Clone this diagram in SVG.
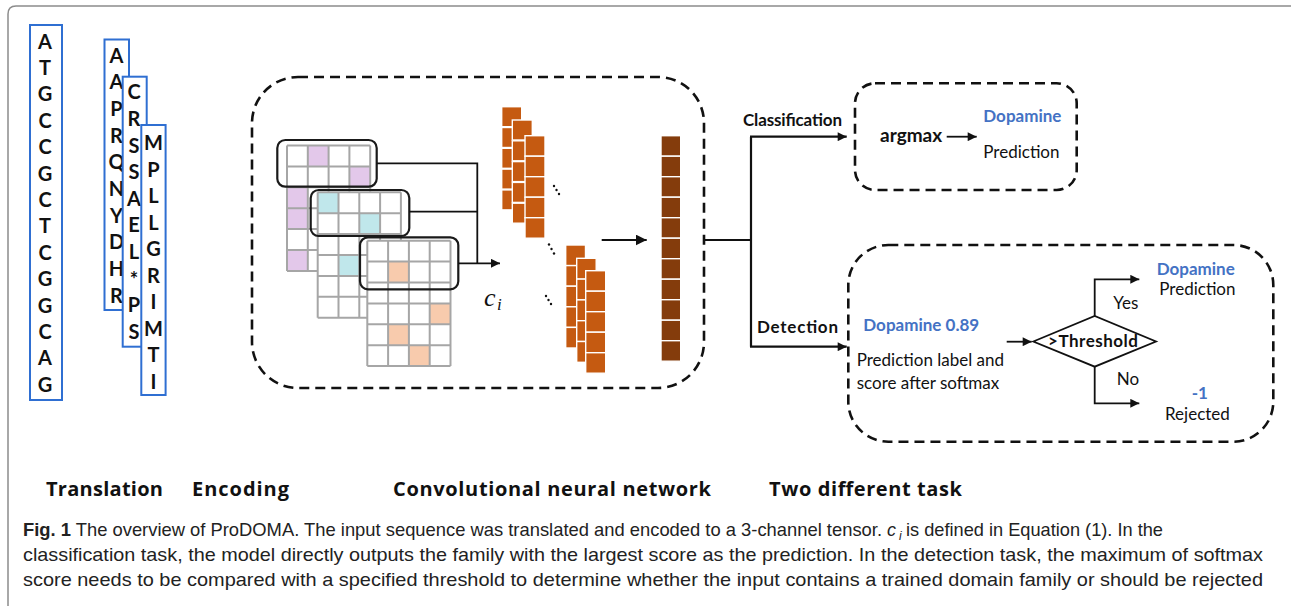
<svg xmlns="http://www.w3.org/2000/svg" xmlns:xlink="http://www.w3.org/1999/xlink" width="1291" height="606" viewBox="0 0 1291 606">
<style>
.seqbox{fill:#fff;stroke:#2F6FD2;stroke-width:2}
.seq{font-family:Lato,"Liberation Sans",sans-serif;font-weight:bold;font-size:20px;fill:#111;text-anchor:middle}
.gl{fill:none;stroke:#A6A6A6;stroke-width:2}
.pk{fill:#E3C8EA}
.cy{fill:#C0E7EB}
.og{fill:#F8CBAD}
.kern{fill:none;stroke:#1a1a1a;stroke-width:2.2}
.fm{fill:#C55A11;stroke:#fff;stroke-width:1.4}
.dk{fill:#843C0C;stroke:#fff;stroke-width:1.4}
.dash{fill:none;stroke:#111;stroke-width:2.6;stroke-dasharray:10 6}
.ln{fill:none;stroke:#111;stroke-width:1.8}
.lnk{fill:none;stroke:#111;stroke-width:2.2}
.t{font-family:Lato,"Liberation Sans",sans-serif;font-size:17px;fill:#111}
.big{font-size:19px}
.b{font-weight:bold}
.blue{fill:#4472C4;font-weight:bold}
.lab{font-family:"Open Sans","Liberation Sans",sans-serif;font-weight:bold;font-size:20px;fill:#111}
.cap{font-family:"Liberation Sans",sans-serif;font-size:19px;fill:#222}
.capi{font-family:"Liberation Sans",sans-serif;font-style:italic;fill:#222}
.dot{fill:#111}
</style>
<defs>
<marker id="ah" viewBox="0 0 10 10" refX="10" refY="5" markerWidth="10" markerHeight="9" markerUnits="userSpaceOnUse" orient="auto"><path d="M0,0 L10,5 L0,10 z" fill="#111"/></marker>
<marker id="ahb" viewBox="0 0 10 10" refX="10" refY="5" markerWidth="11" markerHeight="11" markerUnits="userSpaceOnUse" orient="auto"><path d="M0,0 L10,5 L0,10 z" fill="#111"/></marker>
<path id="gridlines" class="gl" d="M0,0V125.4M20.8,0V125.4M41.6,0V125.4M62.4,0V125.4M83.2,0V125.4M0,0H83.2M0,20.9H83.2M0,41.8H83.2M0,62.7H83.2M0,83.6H83.2M0,104.5H83.2M0,125.4H83.2"/>
</defs>
<rect width="1291" height="606" fill="#fff"/>
<path d="M8,606 V14 Q8,6 16,6 H1291" fill="none" stroke="#8c8c8c" stroke-width="1.5"/>

<g id="seq-dna">
<rect class="seqbox" x="30" y="25" width="32" height="375"/>
<text class="seq" x="45"><tspan x="45" y="48.5">A</tspan><tspan x="45" y="74.9">T</tspan><tspan x="45" y="101.3">G</tspan><tspan x="45" y="127.7">C</tspan><tspan x="45" y="154.1">C</tspan><tspan x="45" y="180.5">G</tspan><tspan x="45" y="206.9">C</tspan><tspan x="45" y="233.3">T</tspan><tspan x="45" y="259.7">C</tspan><tspan x="45" y="286.1">G</tspan><tspan x="45" y="312.5">G</tspan><tspan x="45" y="338.9">C</tspan><tspan x="45" y="365.3">A</tspan><tspan x="45" y="391.7">G</tspan></text>
</g>
<g id="seq-frame1">
<rect class="seqbox" x="104.5" y="39.5" width="24.5" height="270.5"/>
<text class="seq"><tspan x="116.5" y="62.7">A</tspan><tspan x="116.5" y="89.3">A</tspan><tspan x="116.5" y="116">P</tspan><tspan x="116.5" y="142.7">R</tspan><tspan x="116.5" y="169.3">Q</tspan><tspan x="116.5" y="196">N</tspan><tspan x="116.5" y="222.7">Y</tspan><tspan x="116.5" y="249.3">D</tspan><tspan x="116.5" y="276">H</tspan><tspan x="116.5" y="302.7">R</tspan></text>
</g>
<g id="seq-frame2">
<rect class="seqbox" x="122.7" y="76.7" width="24" height="270"/>
<text class="seq"><tspan x="134" y="99.3">C</tspan><tspan x="134" y="125.9">R</tspan><tspan x="134" y="152.5">S</tspan><tspan x="134" y="179.1">S</tspan><tspan x="134" y="205.7">A</tspan><tspan x="134" y="232.3">E</tspan><tspan x="134" y="258.9">L</tspan><tspan x="134" y="287">*</tspan><tspan x="134" y="312.1">P</tspan><tspan x="134" y="338.7">S</tspan></text>
</g>
<g id="seq-frame3">
<rect class="seqbox" x="141.3" y="125" width="24.3" height="270"/>
<text class="seq"><tspan x="153.5" y="150">M</tspan><tspan x="153.5" y="176.5">P</tspan><tspan x="153.5" y="203">L</tspan><tspan x="153.5" y="229.5">L</tspan><tspan x="153.5" y="256">G</tspan><tspan x="153.5" y="282.5">R</tspan><tspan x="153.5" y="309">I</tspan><tspan x="153.5" y="335.5">M</tspan><tspan x="153.5" y="362">T</tspan><tspan x="153.5" y="388.5">I</tspan></text>
</g>

<g id="cnn-box"><rect class="dash" x="252" y="77" width="452" height="311" rx="46"/></g>

<g id="grid1" transform="translate(287,145.5)">
<rect width="83.2" height="125.4" fill="#fff"/>
<rect class="pk" x="20.8" y="0" width="20.8" height="20.9"/>
<rect class="pk" x="62.4" y="20.9" width="20.8" height="20.9"/>
<rect class="pk" x="0" y="41.8" width="20.8" height="20.9"/>
<rect class="pk" x="0" y="62.7" width="20.8" height="20.9"/>
<rect class="pk" x="0" y="104.5" width="20.8" height="20.9"/>
<use xlink:href="#gridlines"/>
</g>
<g id="grid2" transform="translate(317.7,192.3)">
<rect width="83.2" height="125.4" fill="#fff"/>
<rect class="cy" x="0" y="0" width="20.8" height="20.9"/>
<rect class="cy" x="41.6" y="20.9" width="20.8" height="20.9"/>
<rect class="cy" x="20.8" y="62.7" width="20.8" height="20.9"/>
<use xlink:href="#gridlines"/>
</g>
<g id="grid3" transform="translate(367.3,240.7)">
<rect width="83.2" height="125.4" fill="#fff"/>
<rect class="og" x="20.8" y="20.9" width="20.8" height="20.9"/>
<rect class="og" x="62.4" y="62.7" width="20.8" height="20.9"/>
<rect class="og" x="20.8" y="83.6" width="20.8" height="20.9"/>
<rect class="og" x="41.6" y="104.5" width="20.8" height="20.9"/>
<use xlink:href="#gridlines"/>
</g>
<g id="kernels">
<rect class="kern" x="277.3" y="140" width="99.4" height="46.7" rx="8"/>
<rect class="kern" x="310.7" y="190" width="98.6" height="46" rx="8"/>
<rect class="kern" x="360" y="237.3" width="98.3" height="52" rx="8"/>
</g>

<g id="ci-label">
<text x="484" y="306" font-family="'Liberation Serif',serif" font-style="italic" font-size="26" fill="#111">c</text>
<text x="497" y="310" font-family="'Liberation Serif',serif" font-style="italic" font-size="17" fill="#111">i</text>
</g>

<g id="feature-maps-top">
<rect class="fm" x="501.7" y="106.7" width="20" height="20"/><rect class="fm" x="501.7" y="127.5" width="20" height="20"/><rect class="fm" x="501.7" y="148.3" width="20" height="20"/><rect class="fm" x="501.7" y="169.1" width="20" height="20"/><rect class="fm" x="501.7" y="189.9" width="20" height="20"/>
<rect class="fm" x="512.3" y="120" width="20" height="20"/><rect class="fm" x="512.3" y="140.8" width="20" height="20"/><rect class="fm" x="512.3" y="161.6" width="20" height="20"/><rect class="fm" x="512.3" y="182.4" width="20" height="20"/><rect class="fm" x="512.3" y="203.2" width="20" height="20"/>
<rect class="fm" x="525" y="135.7" width="20" height="20.5"/><rect class="fm" x="525" y="156.2" width="20" height="20.5"/><rect class="fm" x="525" y="176.7" width="20" height="20.5"/><rect class="fm" x="525" y="197.2" width="20" height="20.5"/><rect class="fm" x="525" y="217.7" width="20" height="20.5"/>
</g>
<g id="feature-maps-bottom">
<rect class="fm" x="565.7" y="245" width="19.8" height="20.6"/><rect class="fm" x="565.7" y="265.6" width="19.8" height="20.6"/><rect class="fm" x="565.7" y="286.2" width="19.8" height="20.6"/><rect class="fm" x="565.7" y="306.8" width="19.8" height="20.6"/><rect class="fm" x="565.7" y="327.4" width="19.8" height="20.6"/>
<rect class="fm" x="576.7" y="258.3" width="19.5" height="20.8"/><rect class="fm" x="576.7" y="279.1" width="19.5" height="20.8"/><rect class="fm" x="576.7" y="299.9" width="19.5" height="20.8"/><rect class="fm" x="576.7" y="320.7" width="19.5" height="20.8"/><rect class="fm" x="576.7" y="341.5" width="19.5" height="20.8"/>
<rect class="fm" x="585.7" y="270.7" width="20" height="20.5"/><rect class="fm" x="585.7" y="291.2" width="20" height="20.5"/><rect class="fm" x="585.7" y="311.7" width="20" height="20.5"/><rect class="fm" x="585.7" y="332.2" width="20" height="20.5"/><rect class="fm" x="585.7" y="352.7" width="20" height="20.5"/>
</g>
<g id="dots">
<circle class="dot" cx="554" cy="186" r="1.2"/><circle class="dot" cx="556.5" cy="190" r="1.2"/><circle class="dot" cx="559" cy="194" r="1.2"/>
<circle class="dot" cx="549" cy="244.5" r="1.2"/><circle class="dot" cx="551.5" cy="249" r="1.2"/><circle class="dot" cx="554" cy="253.5" r="1.2"/>
<circle class="dot" cx="546" cy="296" r="1.2"/><circle class="dot" cx="548.5" cy="300" r="1.2"/><circle class="dot" cx="551" cy="304" r="1.2"/>
</g>
<g id="dense-vector">
<rect class="dk" x="661" y="135.7" width="19.7" height="20.5"/><rect class="dk" x="661" y="156.2" width="19.7" height="20.5"/><rect class="dk" x="661" y="176.7" width="19.7" height="20.5"/><rect class="dk" x="661" y="197.2" width="19.7" height="20.5"/><rect class="dk" x="661" y="217.7" width="19.7" height="20.5"/><rect class="dk" x="661" y="238.2" width="19.7" height="20.5"/><rect class="dk" x="661" y="258.7" width="19.7" height="20.5"/><rect class="dk" x="661" y="279.2" width="19.7" height="20.5"/><rect class="dk" x="661" y="299.7" width="19.7" height="20.5"/><rect class="dk" x="661" y="320.2" width="19.7" height="20.5"/><rect class="dk" x="661" y="340.7" width="19.7" height="20.5"/>
</g>

<g id="classification-box">
<rect class="dash" x="855" y="83.3" width="221.7" height="106.7" rx="20"/>
<text class="t b big" x="880" y="141.5">argmax</text>
<text class="t blue" x="983.3" y="122">Dopamine</text>
<text class="t" x="983.3" y="157.5">Prediction</text>
</g>
<g id="detection-box">
<rect class="dash" x="848.3" y="245" width="425" height="196.7" rx="40"/>
<text class="t blue" x="863.3" y="331">Dopamine 0.89</text>
<text class="t" x="856.7" y="366">Prediction label and</text>
<text class="t" x="856.7" y="388.5">score after softmax</text>
</g>
<g id="threshold">
<polygon points="1033.3,341.5 1094.7,316 1156,341.5 1094.7,366.7" fill="#fff" stroke="#111" stroke-width="1.8"/>
<text class="t b" x="1093" y="347" text-anchor="middle" textLength="90">&gt;Threshold</text>
</g>
<g id="yes-output">
<text class="t blue" x="1156.7" y="274.5">Dopamine</text>
<text class="t" x="1159.3" y="295">Prediction</text>
</g>
<g id="no-output">
<text class="t blue" x="1191.7" y="398.5">-1</text>
<text class="t" x="1165" y="420">Rejected</text>
</g>

<g id="connectors">
<path class="ln" d="M376.7,163.3 H477.3 V263.3 M409.3,211.7 H477.3"/>
<path class="ln" d="M458.3,263.3 H500" marker-end="url(#ah)"/>
<path class="ln" d="M601.7,240 H646.7" marker-end="url(#ahb)"/>
<path class="lnk" d="M704,240 H751 M751,136.7 V346.7"/>
<path class="lnk" d="M750,136.7 H846.7" marker-end="url(#ah)"/>
<path class="lnk" d="M750,346.7 H846.7" marker-end="url(#ah)"/>
<path class="ln" d="M946.7,136.7 H976.7" marker-end="url(#ah)"/>
<path class="ln" d="M1006.7,341.7 H1031.7" marker-end="url(#ah)"/>
<path class="ln" d="M1094.7,316 V279.3 H1139.3" marker-end="url(#ah)"/>
<path class="ln" d="M1094.7,366.7 V403.3 H1139.3" marker-end="url(#ah)"/>
</g>
<g id="connector-labels">
<text class="t b" x="743" y="126" textLength="99">Classification</text>
<text class="t b" x="757" y="333" textLength="81">Detection</text>
<text class="t" x="1113.3" y="309.3">Yes</text>
<text class="t" x="1116.7" y="385">No</text>
</g>

<g id="stage-labels">
<text class="lab" x="46" y="496" textLength="117">Translation</text>
<text class="lab" x="192" y="496" textLength="97">Encoding</text>
<text class="lab" x="393" y="496" textLength="318">Convolutional neural network</text>
<text class="lab" x="769" y="496" textLength="193">Two different task</text>
</g>

<g id="caption">
<text class="cap" x="23" y="536" textLength="859" lengthAdjust="spacingAndGlyphs"><tspan font-weight="bold">Fig. 1</tspan> The overview of ProDOMA. The input sequence was translated and encoded to a 3-channel tensor.</text>
<text class="capi" x="887" y="536" font-size="18">c</text>
<text class="capi" x="899" y="540" font-size="12">i</text>
<text class="cap" x="906" y="536" textLength="257" lengthAdjust="spacingAndGlyphs">is defined in Equation (1). In the</text>
<text class="cap" x="23" y="561" textLength="1240" lengthAdjust="spacingAndGlyphs">classification task, the model directly outputs the family with the largest score as the prediction. In the detection task, the maximum of softmax</text>
<text class="cap" x="23" y="586" textLength="1240" lengthAdjust="spacingAndGlyphs">score needs to be compared with a specified threshold to determine whether the input contains a trained domain family or should be rejected</text>
</g>
</svg>
